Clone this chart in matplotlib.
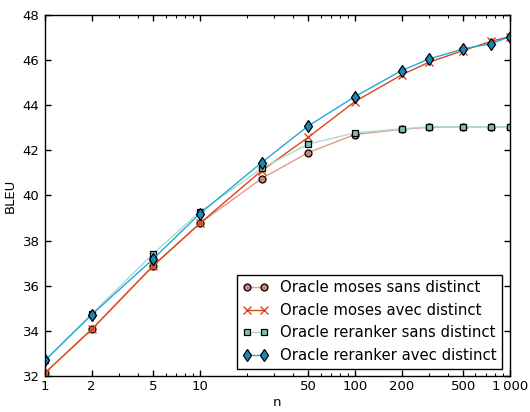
import numpy
import matplotlib
matplotlib.use('Agg')
import matplotlib.pyplot as plt
from matplotlib.ticker import FixedLocator, FixedFormatter, LogLocator, NullFormatter

n = [1, 2, 5, 10, 25, 50, 100, 200, 300, 500, 750, 1000]
moses_sans = [32.15, 34.07, 36.89, 38.77, 40.75, 41.9, 42.7, 42.93, 43.02, 43.04, 43.04, 43.04]
moses_avec = [32.15, 34.07, 36.9, 38.77, 41.1, 42.58, 44.16, 45.34, 45.9, 46.42, 46.82, 47.04]
reranker_sans = [32.7, 34.75, 37.43, 39.28, 41.2, 42.28, 42.77, 42.95, 43.04, 43.04, 43.04, 43.04]
reranker_avec = [32.7, 34.72, 37.2, 39.2, 41.46, 43.08, 44.38, 45.53, 46.04, 46.49, 46.72, 47.03]

labels = ['Oracle moses sans distinct', 'Oracle moses avec distinct',
          'Oracle reranker sans distinct', 'Oracle reranker avec distinct']
xticks = [1, 2, 5, 10, 50, 100, 200, 500, 1000]
xticklabels = ['1', '2', '5', '10', '50', '100', '200', '500', '1\u2009000']

plt.rcParams['font.family'] = ['DejaVu Sans']
fig = plt.figure(figsize=(5.3, 4.12), dpi=100)
ax = fig.add_axes([0.085, 0.087, 0.877, 0.877])

ax.plot(n, moses_sans, '-o', color='#e59a84', mfc='#c98570', mec='black',
        mew=0.9, ms=5, lw=1, label=labels[0])
ax.plot(n, moses_avec, '-x', color='#d9461e', mec='#d9461e',
        mew=1, ms=6, lw=1, label=labels[1])
ax.plot(n, reranker_sans, '-s', color='#a9dbd1', mfc='#80c0b6', mec='black',
        mew=0.9, ms=5, lw=1, label=labels[2])
ax.plot(n, reranker_avec, '-d', color='#22a9d4', mfc='#1a88bb', mec='black',
        mew=0.9, ms=6, lw=1, label=labels[3])

ax.set_xscale('log')
ax.set_xlim(1, 1000)
ax.set_ylim(32, 48)
ax.xaxis.set_major_locator(FixedLocator(xticks))
ax.xaxis.set_major_formatter(FixedFormatter(xticklabels))
ax.xaxis.set_minor_locator(LogLocator(base=10, subs=numpy.arange(1, 10)))
ax.xaxis.set_minor_formatter(NullFormatter())
ax.set_yticks([32, 34, 36, 38, 40, 42, 44, 46, 48])

ax.tick_params(which='both', direction='in', top=True, right=True, labelsize=9.5)
ax.tick_params(axis='x', pad=3)
ax.tick_params(axis='y', pad=4)
ax.tick_params(which='major', length=4, width=1)
ax.tick_params(which='minor', length=2, width=0.8)
for s in ax.spines.values():
    s.set_linewidth(1)

ax.set_xlabel('n', fontsize=9.5, labelpad=2)
ax.set_ylabel('BLEU', fontsize=9.5)

leg = ax.legend(loc='lower right', numpoints=2, fontsize=10.7, fancybox=False,
                framealpha=1, edgecolor='black', handlelength=1.7,
                labelspacing=0.5, borderpad=0.4, handletextpad=0.8,
                borderaxespad=0.5)
leg.get_frame().set_linewidth(1)

fig.savefig('out.png', dpi=100)
